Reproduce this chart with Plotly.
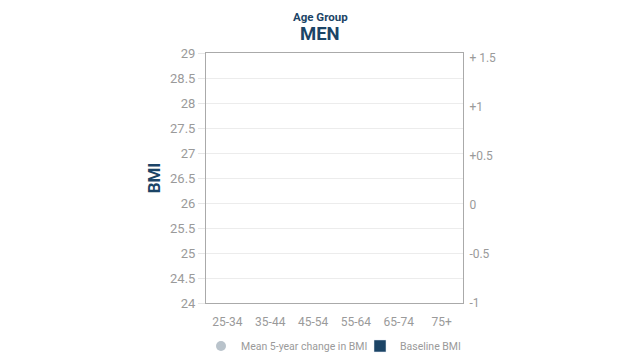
import plotly.graph_objects as go

age_groups = ["25-34", "35-44", "45-54", "55-64", "65-74", "75+"]
baseline_bmi = [None, None, None, None, None, None]
mean_change = [None, None, None, None, None, None]
left_ticks = [24, 24.5, 25, 25.5, 26, 26.5, 27, 27.5, 28, 28.5, 29]
right_tickvals = [-1, -0.5, 0, 0.5, 1, 1.5]
right_ticktext = ["-1", "-0.5", "0", "+0.5", "+1", "+ 1.5"]

NAVY = "#1b4466"
GREY_TXT = "#9a9a9a"
FONT = "Roboto"

fig = go.Figure()
fig.add_trace(go.Scatter(
    x=age_groups, y=mean_change, name="Mean 5-year change in BMI",
    mode="markers", yaxis="y2", legend="legend",
    marker=dict(symbol="circle", size=10, color="#b9c3cb"),
))
fig.add_trace(go.Bar(
    x=age_groups, y=baseline_bmi, name="Baseline BMI", legend="legend2",
    marker=dict(color=NAVY),
))

leg_common = dict(orientation="h", xref="container", yref="container",
                  xanchor="left", y=0.039, yanchor="middle",
                  font=dict(size=10.5, color=GREY_TXT), bgcolor="rgba(0,0,0,0)")

title_x = (320 - 206) / 257

fig.update_layout(
    width=640, height=360,
    margin=dict(l=206, r=177, t=53, b=57, autoexpand=False),
    paper_bgcolor="white", plot_bgcolor="white",
    font=dict(family=FONT, color=GREY_TXT, size=13),
    showlegend=True,
    legend=dict(x=201 / 640, **leg_common),
    legend2=dict(x=360 / 640, **leg_common),
    xaxis=dict(type="category", categoryorder="array", categoryarray=age_groups,
               showgrid=False, showline=True, linecolor="#aaaaaa", linewidth=1,
               mirror=True, ticks="outside", ticklen=8, tickcolor="rgba(0,0,0,0)",
               tickfont=dict(size=12, color=GREY_TXT), zeroline=False),
    yaxis=dict(range=[24, 29], tickvals=left_ticks,
               ticktext=[f"{v:g}" for v in left_ticks],
               showgrid=True, gridcolor="#ececec", gridwidth=1,
               showline=True, linecolor="#aaaaaa", linewidth=1, mirror=True,
               ticks="outside", ticklen=7, tickcolor="#e6e6e6",
               tickfont=dict(size=13, color=GREY_TXT), zeroline=False,
               title=dict(text="<b>BMI</b>", font=dict(size=17, color=NAVY), standoff=5)),
    yaxis2=dict(range=[-1, 1.55], overlaying="y", side="right",
                tickvals=right_tickvals, ticktext=right_ticktext,
                showgrid=False, zeroline=False, showline=False,
                ticks="outside", ticklen=3, tickcolor="rgba(0,0,0,0)",
                tickfont=dict(size=12, color=GREY_TXT)),
    annotations=[
        dict(text="<b>Age Group</b>", x=title_x, y=(303 - 16.5) / 250, xref="paper", yref="paper",
             xanchor="center", yanchor="middle", showarrow=False,
             font=dict(size=11.5, color=NAVY, family=FONT)),
        dict(text="<b>MEN</b>", x=title_x, y=(303 - 34) / 250, xref="paper", yref="paper",
             xanchor="center", yanchor="middle", showarrow=False,
             font=dict(size=18.5, color=NAVY, family=FONT)),
    ],
)

fig.write_html("out.html")
